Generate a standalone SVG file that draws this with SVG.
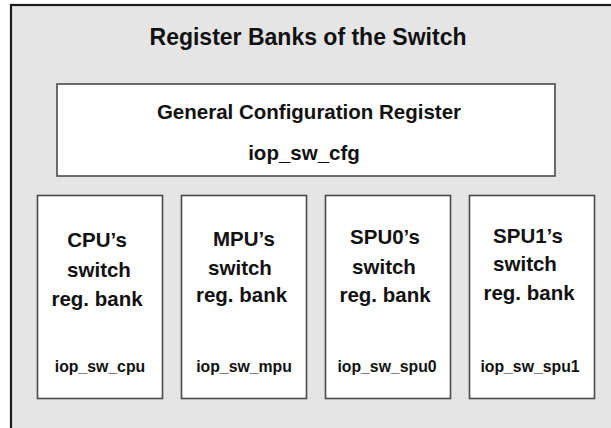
<svg xmlns="http://www.w3.org/2000/svg" width="611" height="428" viewBox="0 0 611 428">
<style>
.box{fill:#ffffff;stroke:#4a4a4a;stroke-width:1.6}
.t{font-family:"Liberation Sans",Arial,Helvetica,sans-serif;font-weight:bold;fill:#111111;text-anchor:middle}
.big{font-size:20.5px}
.small{font-size:15.8px}
</style>
<rect width="611" height="428" fill="#ffffff"/>
<g id="frame">
<rect x="11" y="5" width="620" height="440" fill="#e5e5e5" stroke="#1c1c1c" stroke-width="2.2"/>
<text class="t" x="308" y="45" font-size="23">Register Banks of the Switch</text>
</g>
<g id="cfg">
<rect class="box" x="57" y="84" width="498" height="92"/>
<text class="t big" x="309" y="119">General Configuration Register</text>
<text class="t big" x="304" y="160">iop_sw_cfg</text>
</g>
<g id="cpu">
<rect class="box" x="37.5" y="195.5" width="125" height="203"/>
<text class="t big" x="97" y="247">CPU’s</text>
<text class="t big" x="99" y="277">switch</text>
<text class="t big" x="97" y="306">reg. bank</text>
<text class="t small" x="100" y="372">iop_sw_cpu</text>
</g>
<g id="mpu">
<rect class="box" x="181.5" y="195.5" width="125" height="203"/>
<text class="t big" x="244" y="246">MPU’s</text>
<text class="t big" x="240" y="275">switch</text>
<text class="t big" x="241.5" y="302">reg. bank</text>
<text class="t small" x="244" y="372">iop_sw_mpu</text>
</g>
<g id="spu0">
<rect class="box" x="325.5" y="195.5" width="125" height="203"/>
<text class="t big" x="385" y="244">SPU0’s</text>
<text class="t big" x="384" y="274">switch</text>
<text class="t big" x="385" y="302">reg. bank</text>
<text class="t small" x="387" y="372">iop_sw_spu0</text>
</g>
<g id="spu1">
<rect class="box" x="469.5" y="195.5" width="125" height="203"/>
<text class="t big" x="528" y="243">SPU1’s</text>
<text class="t big" x="525" y="271">switch</text>
<text class="t big" x="529" y="300">reg. bank</text>
<text class="t small" x="530" y="372">iop_sw_spu1</text>
</g>
<g id="connectors"></g>
</svg>
